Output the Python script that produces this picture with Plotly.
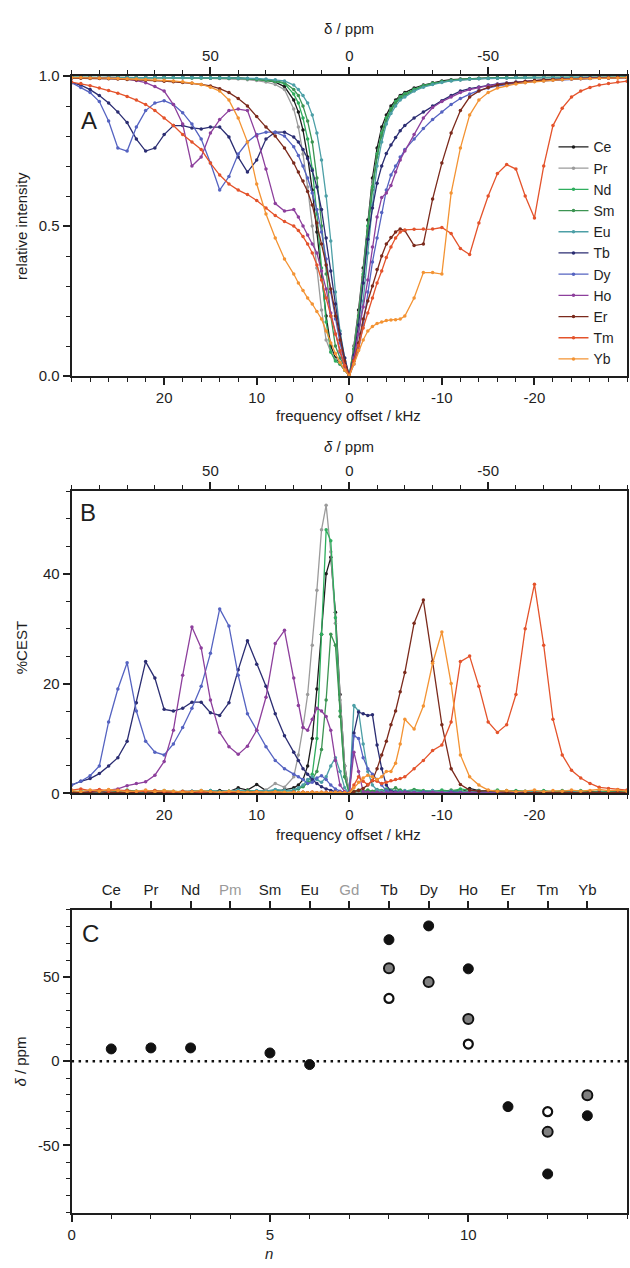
import plotly.graph_objects as go

W, H = 630, 1268
FONT = "Liberation Sans, Arial, sans-serif"
INK = "#1e1e1e"

# ---------------- frequency grid (kHz) shared by panels A and B ----------------
freq_khz = [30, 29, 28, 27, 26, 25, 24, 23, 22, 21, 20, 19, 18, 17, 16, 15, 14, 13, 12, 11, 10, 9, 8, 7,
            6, 5.5, 5, 4.5, 4, 3.5, 3, 2.5, 2, 1.5, 1, 0.5, 0, -0.5, -1, -1.5, -2, -2.5, -3, -3.5, -4, -4.5, -5, -5.5, -6,
            -7, -8, -9, -10, -11, -12, -13, -14, -15, -16, -17, -18, -19, -20, -21, -22, -23, -24, -25, -26, -27, -28, -29, -30]

lanthanides = ["Ce", "Pr", "Nd", "Sm", "Eu", "Tb", "Dy", "Ho", "Er", "Tm", "Yb"]

# ---------------- panel A: relative water intensity (Z-spectra) ----------------
z_Ce = [0.996, 0.995, 0.996, 0.995, 0.996, 0.995, 0.996, 0.995, 0.995, 0.996, 0.995, 0.995, 0.996, 0.995, 0.995, 0.994, 0.995, 0.994, 0.994, 0.992, 0.99, 0.986, 0.98, 0.965,
        0.92, 0.88, 0.82, 0.73, 0.62, 0.48, 0.33, 0.2, 0.1, 0.06, 0.04, 0.02, 0.0, 0.1, 0.22, 0.36, 0.52, 0.66, 0.76, 0.83, 0.87, 0.9, 0.92, 0.935, 0.945,
        0.96, 0.97, 0.978, 0.984, 0.988, 0.99, 0.992, 0.993, 0.994, 0.995, 0.995, 0.996, 0.995, 0.996, 0.995, 0.996, 0.996, 0.995, 0.996, 0.996, 0.995, 0.996, 0.996, 0.996]
z_Pr = [0.995, 0.996, 0.995, 0.995, 0.996, 0.995, 0.995, 0.996, 0.995, 0.995, 0.994, 0.995, 0.994, 0.994, 0.993, 0.993, 0.992, 0.991, 0.99, 0.988, 0.985, 0.98, 0.972, 0.955,
        0.89, 0.83, 0.74, 0.63, 0.5, 0.36, 0.22, 0.12, 0.08, 0.055, 0.04, 0.02, 0.0, 0.1, 0.21, 0.35, 0.5, 0.64, 0.74, 0.81, 0.86, 0.89, 0.91, 0.93, 0.94,
        0.955, 0.967, 0.975, 0.981, 0.985, 0.988, 0.99, 0.992, 0.993, 0.994, 0.995, 0.995, 0.996, 0.995, 0.996, 0.996, 0.995, 0.996, 0.996, 0.996, 0.995, 0.996, 0.996, 0.996]
z_Nd = [0.996, 0.996, 0.995, 0.996, 0.995, 0.996, 0.995, 0.996, 0.995, 0.995, 0.996, 0.995, 0.995, 0.995, 0.994, 0.994, 0.994, 0.993, 0.993, 0.991, 0.989, 0.986, 0.982, 0.975,
        0.94, 0.91, 0.86, 0.79, 0.69, 0.54, 0.36, 0.18, 0.08, 0.05, 0.04, 0.02, 0.0, 0.09, 0.2, 0.34, 0.5, 0.63, 0.74, 0.81, 0.86, 0.89, 0.915, 0.93, 0.94,
        0.956, 0.968, 0.976, 0.982, 0.986, 0.989, 0.991, 0.992, 0.993, 0.994, 0.995, 0.995, 0.995, 0.996, 0.995, 0.996, 0.996, 0.996, 0.995, 0.996, 0.996, 0.996, 0.996, 0.997]
z_Sm = [0.996, 0.995, 0.996, 0.995, 0.995, 0.996, 0.995, 0.995, 0.996, 0.995, 0.995, 0.995, 0.995, 0.994, 0.995, 0.994, 0.994, 0.993, 0.993, 0.992, 0.99, 0.988, 0.984, 0.978,
        0.955, 0.935, 0.9, 0.85, 0.78, 0.66, 0.5, 0.34, 0.2, 0.1, 0.06, 0.03, 0.0, 0.09, 0.2, 0.33, 0.48, 0.62, 0.73, 0.8, 0.85, 0.885, 0.91, 0.925, 0.935,
        0.952, 0.965, 0.974, 0.98, 0.985, 0.988, 0.99, 0.992, 0.993, 0.994, 0.994, 0.995, 0.995, 0.995, 0.996, 0.996, 0.995, 0.996, 0.996, 0.996, 0.996, 0.996, 0.997, 0.996]
z_Eu = [0.996, 0.996, 0.995, 0.996, 0.996, 0.995, 0.996, 0.995, 0.995, 0.996, 0.995, 0.995, 0.995, 0.995, 0.995, 0.994, 0.994, 0.994, 0.993, 0.993, 0.992, 0.99, 0.988, 0.984,
        0.97, 0.955, 0.935, 0.91, 0.87, 0.81, 0.72, 0.6, 0.45, 0.28, 0.15, 0.06, 0.0, 0.06, 0.14, 0.25, 0.41, 0.57, 0.7, 0.78, 0.84, 0.875, 0.9, 0.92, 0.93,
        0.95, 0.963, 0.972, 0.979, 0.984, 0.987, 0.99, 0.991, 0.992, 0.993, 0.994, 0.995, 0.995, 0.995, 0.995, 0.996, 0.996, 0.996, 0.996, 0.996, 0.995, 0.996, 0.996, 0.996]
z_Tb = [0.978, 0.97, 0.955, 0.935, 0.91, 0.88, 0.845, 0.79, 0.75, 0.76, 0.805, 0.835, 0.835, 0.827, 0.824, 0.83, 0.83, 0.797, 0.73, 0.68, 0.72, 0.79, 0.813, 0.813,
        0.797, 0.78, 0.755, 0.725, 0.685, 0.63, 0.555, 0.46, 0.35, 0.24, 0.14, 0.06, 0.0, 0.07, 0.17, 0.31, 0.456, 0.56, 0.643, 0.7, 0.742, 0.77, 0.795, 0.818, 0.835,
        0.86, 0.88, 0.9, 0.918, 0.935, 0.95, 0.958, 0.964, 0.97, 0.974, 0.977, 0.98, 0.982, 0.985, 0.987, 0.989, 0.99, 0.992, 0.993, 0.994, 0.994, 0.995, 0.995, 0.996]
z_Dy = [0.978, 0.962, 0.945, 0.915, 0.85, 0.76, 0.75, 0.83, 0.885, 0.91, 0.918, 0.905, 0.878, 0.84, 0.79, 0.71, 0.62, 0.665, 0.74, 0.78, 0.805, 0.813, 0.813, 0.8,
        0.764, 0.735, 0.7, 0.66, 0.61, 0.555, 0.48, 0.39, 0.28, 0.19, 0.11, 0.045, 0.0, 0.04, 0.09, 0.17, 0.28, 0.38, 0.46, 0.545, 0.62, 0.67, 0.7, 0.73, 0.755,
        0.79, 0.825, 0.855, 0.88, 0.905, 0.925, 0.94, 0.952, 0.96, 0.967, 0.972, 0.976, 0.979, 0.982, 0.984, 0.986, 0.988, 0.99, 0.991, 0.992, 0.993, 0.994, 0.995, 0.995]
z_Ho = [0.995, 0.995, 0.994, 0.994, 0.993, 0.992, 0.99, 0.985, 0.978, 0.965, 0.95, 0.905, 0.84, 0.7, 0.73, 0.81, 0.855, 0.885, 0.89, 0.885, 0.8, 0.69, 0.575, 0.55,
        0.555, 0.53, 0.5, 0.47, 0.44, 0.41, 0.35, 0.29, 0.21, 0.14, 0.08, 0.03, 0.0, 0.06, 0.14, 0.23, 0.32, 0.43, 0.53, 0.595, 0.61, 0.635, 0.68, 0.72, 0.75,
        0.805, 0.86, 0.895, 0.915, 0.93, 0.945, 0.955, 0.962, 0.968, 0.972, 0.976, 0.979, 0.982, 0.984, 0.986, 0.988, 0.99, 0.991, 0.992, 0.993, 0.994, 0.994, 0.995, 0.995]
z_Er = [0.993, 0.993, 0.992, 0.992, 0.991, 0.99, 0.989, 0.988, 0.986, 0.985, 0.983, 0.981, 0.979, 0.976, 0.972, 0.967, 0.958, 0.945, 0.925, 0.9, 0.865, 0.83, 0.8, 0.76,
        0.71, 0.68, 0.65, 0.615, 0.57, 0.51, 0.44, 0.37, 0.29, 0.2, 0.12, 0.05, 0.0, 0.05, 0.11, 0.19, 0.25, 0.3, 0.355, 0.4, 0.44, 0.462, 0.48, 0.49, 0.485,
        0.435, 0.44, 0.59, 0.71, 0.81, 0.885, 0.93, 0.95, 0.962, 0.97, 0.975, 0.979, 0.982, 0.985, 0.987, 0.989, 0.99, 0.991, 0.992, 0.993, 0.994, 0.994, 0.995, 0.995]
z_Tm = [0.98, 0.975, 0.968, 0.96, 0.952, 0.943, 0.932, 0.92, 0.905, 0.885, 0.86, 0.835, 0.805, 0.78, 0.755, 0.71, 0.67, 0.64, 0.62, 0.605, 0.585, 0.56, 0.535, 0.515,
        0.5, 0.485, 0.465, 0.44, 0.41, 0.37, 0.32, 0.26, 0.2, 0.14, 0.085, 0.035, 0.0, 0.05, 0.1, 0.16, 0.21, 0.26, 0.31, 0.35, 0.395, 0.43, 0.46, 0.48, 0.487,
        0.489, 0.49, 0.49, 0.495, 0.475, 0.425, 0.405, 0.51, 0.6, 0.675, 0.705, 0.69, 0.6, 0.527, 0.7, 0.835, 0.893, 0.93, 0.95, 0.962, 0.97, 0.975, 0.98, 0.983]
z_Yb = [0.995, 0.995, 0.994, 0.994, 0.993, 0.992, 0.991, 0.99, 0.989, 0.988, 0.986, 0.984, 0.981, 0.977, 0.972, 0.963, 0.95, 0.92, 0.86, 0.78, 0.64, 0.54, 0.46, 0.39,
        0.34, 0.31, 0.285, 0.26, 0.24, 0.215, 0.19, 0.15, 0.11, 0.075, 0.045, 0.02, 0.0, 0.04, 0.085, 0.12, 0.15, 0.165, 0.175, 0.18, 0.185, 0.187, 0.188, 0.19, 0.2,
        0.26, 0.345, 0.345, 0.34, 0.61, 0.76, 0.87, 0.92, 0.945, 0.96, 0.968, 0.974, 0.978, 0.981, 0.984, 0.986, 0.988, 0.99, 0.991, 0.992, 0.993, 0.994, 0.994, 0.995]

# ---------------- panel B: %CEST ----------------
cest_Ce = [0.2, 0.3, 0.1, 0.2, 0.4, 0.2, 0.1, 0.3, 0.2, 0.1, 0.3, 0.2, 0.2, 0.4, 0.3, 0.2, 0.5, 0.3, 1.0, 0.6, 1.6, 0.5, 0.3, 0.7,
           1.0, 1.5, 2.5, 5, 10, 19, 29, 40, 43, 33, 18, 5, 0, 0.2, 0.3, 0.2, 0.1, 0.3, 0.2, 0.1, 0.3, 0.2, 0.4, 0.2, 0.3,
           0.5, 0.3, 0.2, 0.4, 0.3, 0.2, 0.9, 0.5, 0.3, 0.2, 0.1, 0.3, 0.2, 0.1, 0.2, 0.3, 0.1, 0.2, 0.1, 0.2, 0.3, 0.1, 0.2, 0.1]
cest_Pr = [0.3, 0.2, 0.1, 0.3, 0.2, 0.1, 0.2, 0.3, 0.1, 0.2, 0.3, 0.2, 0.1, 0.2, 0.3, 0.2, 0.1, 0.3, 0.2, 0.4, 0.3, 0.6, 1.8, 1.1,
           3, 7, 12, 18, 27, 37, 48, 52.5, 44, 31, 17, 5, 0, 0.1, 0.2, 0.3, 0.1, 0.2, 0.1, 0.3, 0.2, 0.1, 0.2, 0.3, 0.1,
           0.2, 0.1, 0.3, 0.2, 0.1, 0.2, 0.1, 0.3, 0.2, 0.1, 0.2, 0.1, 0.2, 0.3, 0.1, 0.2, 0.1, 0.2, 0.1, 0.3, 0.2, 0.1, 0.2, 0.1]
cest_Nd = [0.2, 0.4, 0.3, 0.5, 0.2, 0.3, 0.6, 0.4, 0.2, 0.3, 0.5, 0.2, 0.4, 0.3, 0.2, 0.5, 0.3, 0.4, 0.2, 0.3, 0.4, 0.3, 0.5, 0.4,
           0.5, 0.8, 1.2, 2, 3.5, 10, 29, 48, 46, 32, 15, 3, 0, 0.3, 0.5, 0.4, 0.6, 0.3, 0.5, 0.4, 0.8, 0.5, 0.3, 0.6, 0.4,
           0.7, 0.5, 0.3, 0.6, 0.4, 0.8, 0.5, 0.3, 0.4, 0.6, 0.3, 0.5, 0.4, 0.3, 0.5, 0.2, 0.4, 0.3, 0.5, 0.2, 0.4, 0.3, 0.2, 0.4]
cest_Sm = [0.3, 0.2, 0.4, 0.3, 0.5, 0.2, 0.3, 0.4, 0.2, 0.5, 0.3, 0.4, 0.2, 0.3, 0.5, 0.3, 0.2, 0.4, 0.3, 0.5, 0.4, 0.3, 0.6, 0.5,
           0.6, 0.9, 1.3, 1.8, 2.5, 4, 8, 17, 29, 27, 14, 3, 0, 0.4, 0.6, 0.3, 0.5, 0.4, 0.7, 0.5, 0.4, 0.6, 1.0, 0.5, 0.4,
           0.6, 0.4, 0.5, 0.3, 0.6, 0.4, 0.3, 0.5, 0.4, 0.3, 0.5, 0.4, 0.3, 0.2, 0.4, 0.3, 0.5, 0.2, 0.3, 0.4, 0.2, 0.3, 0.4, 0.2]
cest_Eu = [0.1, 0.2, 0.1, 0.2, 0.3, 0.1, 0.2, 0.1, 0.3, 0.2, 0.1, 0.2, 0.3, 0.4, 0.2, 0.5, 0.3, 0.4, 0.6, 0.3, 0.5, 0.4, 0.7, 0.5,
           0.6, 1, 1.5, 2.5, 3, 2.5, 2, 3, 5, 6.5, 4, 1, 0, 16, 15, 9, 4, 1.5, 0.6, 0.4, 0.3, 0.5, 0.4, 0.3, 0.5,
           0.4, 0.3, 0.5, 0.2, 0.4, 0.3, 0.2, 0.4, 0.3, 0.2, 0.3, 0.2, 0.4, 0.2, 0.3, 0.2, 0.1, 0.3, 0.2, 0.1, 0.2, 0.1, 0.2, 0.1]
cest_Tb = [1.5, 2.2, 2.7, 3.6, 5, 6.5, 9.5, 16.5, 24, 21, 15.3, 15, 15.5, 16.6, 16.6, 14.7, 14.2, 16.5, 22.5, 27.8, 23.5, 19.5, 14.5, 10.5,
           7.5, 6, 4.5, 3.5, 2.5, 1.8, 1.2, 0.8, 0.5, 0.3, 0.2, 0.1, 0, 11, 14.8, 14.5, 14.2, 14.3, 8.8, 4.5, 1.5, 0.4, 0.2, 0.1, 0.2,
           0.1, 0.2, 0.1, 0.1, 0.2, 0.1, 0.1, 0.2, 0.1, 0.1, 0.1, 0.2, 0.1, 0.1, 0.1, 0.2, 0.1, 0.1, 0.1, 0.1, 0.2, 0.1, 0.1, 0.1]
cest_Dy = [1.5, 2.2, 3.2, 5, 13, 19, 23.8, 15, 9.5, 7.5, 7, 9, 12, 15.5, 19.5, 25.5, 33.6, 30.5, 21.5, 14.5, 11.5, 8.5, 6, 4.5,
           3.5, 3, 2.5, 1.8, 2, 2.8, 3.2, 2.5, 1.5, 0.8, 0.4, 0.2, 0, 10.5, 10, 6.5, 4.5, 3.5, 2.5, 1.5, 0.5, 0.2, 0.1, 0.2, 0.1,
           0.1, 0.2, 0.1, 0.1, 0.2, 0.1, 0.1, 0.1, 0.2, 0.1, 0.1, 0.1, 0.2, 0.1, 0.1, 0.1, 0.1, 0.2, 0.1, 0.1, 0.1, 0.1, 0.2, 0.1]
cest_Ho = [0.1, 0.2, 0.2, 0.4, 0.6, 0.8, 1.4, 1.8, 2.1, 3.3, 5.8, 11.5, 21.5, 30.3, 26.5, 17, 11.1, 8.5, 7.1, 8.6, 11.5, 17.5, 27.3, 29.7,
           21, 16, 12, 11.5, 13.5, 15.5, 15, 14, 11.5, 6, 1.5, 0.3, 0, 7.5, 4, 0.3, 0.2, 0.1, 0.2, 0.1, 0.1, 0.2, 0.1, 0.1, 0.2,
           0.1, 0.1, 0.2, 0.1, 0.1, 0.1, 0.2, 0.1, 0.1, 0.1, 0.1, 0.2, 0.1, 0.1, 0.1, 0.1, 0.2, 0.1, 0.1, 0.1, 0.1, 0.1, 0.2, 0.1]
cest_Er = [0.2, 0.1, 0.2, 0.3, 0.1, 0.2, 0.1, 0.2, 0.3, 0.1, 0.2, 0.1, 0.2, 0.1, 0.3, 0.2, 0.1, 0.2, 0.1, 0.2, 0.3, 0.1, 0.2, 0.1,
           0.2, 0.1, 0.2, 0.1, 0.2, 0.1, 0.2, 0.1, 0.1, 0.2, 0.1, 0.1, 0, 0.3, 0.5, 0.9, 1.5, 2.3, 4.5, 7, 9.5, 12.5, 15, 18.5, 22,
           31, 35.2, 24, 12.5, 4.5, 1.6, 0.6, 0.4, 0.5, 0.3, 0.2, 0.3, 0.2, 0.1, 0.2, 0.1, 0.2, 0.1, 0.1, 0.2, 0.1, 0.1, 0.2, 0.1]
cest_Tm = [0.6, 0.8, 0.5, 0.7, 0.4, 0.6, 0.5, 0.3, 0.4, 0.5, 0.3, 0.2, 0.4, 0.3, 0.2, 0.3, 0.1, 0.2, 0.3, 0.1, 0.2, 0.1, 0.2, 0.1,
           0.2, 0.1, 0.2, 0.1, 0.2, 0.1, 0.1, 0.2, 0.1, 0.1, 0.2, 0.1, 0, 1.5, 3, 2.2, 1.6, 2.4, 2.2, 1.8, 2, 2.3, 2.5, 2.7, 3,
           4.5, 6, 7.8, 8.8, 13, 24, 25, 19.5, 13, 11.1, 12.5, 18, 30, 38.1, 27, 13.5, 7, 4.2, 2.8, 1.8, 1.1, 0.9, 0.7, 0.6]
cest_Yb = [0.5, 0.3, 0.6, 0.4, 0.7, 0.5, 0.3, 0.4, 0.6, 0.3, 0.5, 0.4, 0.2, 0.3, 0.5, 0.3, 0.2, 0.4, 0.3, 0.2, 0.3, 0.2, 0.3, 0.2,
           0.2, 0.1, 0.2, 0.1, 0.2, 0.1, 0.2, 0.1, 0.1, 0.2, 0.1, 0.1, 0, 1, 2, 2.8, 3.3, 3, 2.5, 3, 4, 4, 5.5, 9, 13.5,
           11.7, 15.9, 23.7, 29.4, 20, 7, 3, 1.5, 0.6, 0.4, 0.5, 0.3, 0.4, 0.6, 0.3, 0.5, 0.4, 0.6, 0.4, 0.5, 0.7, 0.5, 0.6, 0.4]

# ---------------- panel C: shifts of the CEST peaks vs. number of f electrons ----------------
element_n = [1, 2, 3, 4, 5, 6, 7, 8, 9, 10, 11, 12, 13]
element_names = ["Ce", "Pr", "Nd", "Pm", "Sm", "Eu", "Gd", "Tb", "Dy", "Ho", "Er", "Tm", "Yb"]
no_data_elements = ["Pm", "Gd"]

main_n = [1, 2, 3, 5, 6, 8, 9, 10, 11, 12, 13]
main_shift = [7.3, 7.9, 7.9, 4.9, -2.0, 72.2, 80.4, 54.9, -27.0, -67.0, -32.4]
second_n = [8, 9, 10, 12, 13]
second_shift = [55.3, 47.0, 25.1, -42.0, -20.2]
third_n = [8, 10, 12]
third_shift = [37.3, 10.2, -30.0]

# tick positions / labels
ppm_ticks = [50, 0, -50]
ppm_text = ["50", "0", "-50"]
khz_ticks = [20, 10, 0, -10, -20]
khz_text = ["20", "10", "0", "-10", "-20"]

colors = {
    "Ce": "#1c1c1c", "Pr": "#9b9b9b", "Nd": "#2fae5e", "Sm": "#3c9452", "Eu": "#4c9fa6",
    "Tb": "#2b2d72", "Dy": "#5563c1", "Ho": "#8d3f9c", "Er": "#7b2a1c", "Tm": "#e4532b", "Yb": "#f39333",
}
z_spectra = {"Ce": z_Ce, "Pr": z_Pr, "Nd": z_Nd, "Sm": z_Sm, "Eu": z_Eu, "Tb": z_Tb,
             "Dy": z_Dy, "Ho": z_Ho, "Er": z_Er, "Tm": z_Tm, "Yb": z_Yb}
cest_spectra = {"Ce": cest_Ce, "Pr": cest_Pr, "Nd": cest_Nd, "Sm": cest_Sm, "Eu": cest_Eu, "Tb": cest_Tb,
                "Dy": cest_Dy, "Ho": cest_Ho, "Er": cest_Er, "Tm": cest_Tm, "Yb": cest_Yb}


def px(x):
    return x / W


def py(y):
    return 1 - y / H


fig = go.Figure()

for ln in lanthanides:
    fig.add_trace(go.Scatter(
        x=freq_khz, y=z_spectra[ln], name=ln, mode="lines+markers",
        line=dict(color=colors[ln], width=1.3),
        marker=dict(color=colors[ln], size=3.5),
        xaxis="x", yaxis="y", legendgroup=ln,
    ))

for ln in lanthanides:
    fig.add_trace(go.Scatter(
        x=freq_khz, y=cest_spectra[ln], name=ln, mode="lines+markers",
        line=dict(color=colors[ln], width=1.3),
        marker=dict(color=colors[ln], size=3.5),
        xaxis="x3", yaxis="y2", legendgroup=ln, showlegend=False,
    ))

fig.add_trace(go.Scatter(x=main_n, y=main_shift, mode="markers", showlegend=False,
                         marker=dict(color="#111111", size=10, line=dict(color="#111111", width=1)),
                         xaxis="x5", yaxis="y3"))
fig.add_trace(go.Scatter(x=second_n, y=second_shift, mode="markers", showlegend=False,
                         marker=dict(color="#808080", size=10, line=dict(color="#111111", width=2)),
                         xaxis="x5", yaxis="y3"))
fig.add_trace(go.Scatter(x=third_n, y=third_shift, mode="markers", showlegend=False,
                         marker=dict(color="#ffffff", size=9, line=dict(color="#111111", width=2.2)),
                         xaxis="x5", yaxis="y3"))

# empty traces that register the secondary (top) axes so they get drawn
for xa, ya, xs in (("x2", "y", ppm_ticks), ("x4", "y2", ppm_ticks), ("x6", "y3", element_n)):
    fig.add_trace(go.Scatter(x=xs, y=[None] * len(xs), mode="markers", showlegend=False,
                             hoverinfo="skip", xaxis=xa, yaxis=ya))

XDOM = [px(68), px(627)]
tickfont = dict(family=FONT, size=15, color=INK)
line_style = dict(showline=True, linewidth=2, linecolor=INK, showgrid=False, zeroline=False,
                  ticks="outside", ticklen=7, tickwidth=1.6, tickcolor=INK, tickfont=tickfont)


def minor(step, t0=0):
    return dict(tickmode="linear", tick0=t0, dtick=step, ticks="outside", ticklen=4,
                tickwidth=1.3, tickcolor=INK, showgrid=False)


elem_text = []
for name in element_names:
    if name in no_data_elements:
        elem_text.append('<span style="color:#9a9a9a">' + name + "</span>")
    else:
        elem_text.append(name)

fig.update_layout(
    width=W, height=H, autosize=False,
    margin=dict(l=0, r=0, t=0, b=0),
    paper_bgcolor="white", plot_bgcolor="white",
    font=dict(family=FONT, size=15, color=INK),
    # panel A
    xaxis=dict(domain=XDOM, anchor="y", range=[30, -30], tickmode="array", tickvals=khz_ticks,
               ticktext=khz_text, minor=minor(2), **line_style),
    xaxis2=dict(overlaying="x", anchor="y", side="top", range=[100, -100], tickmode="array",
                tickvals=ppm_ticks, ticktext=ppm_text, minor=minor(10), **line_style),
    yaxis=dict(domain=[py(372), py(68)], anchor="x", range=[0, 1.0], tickmode="array",
               tickvals=[0, 0.5, 1.0], ticktext=["0.0", "0.5", "1.0"], minor=minor(0.1),
               mirror=True, **line_style),
    # panel B
    xaxis3=dict(domain=XDOM, anchor="y2", range=[30, -30], tickmode="array", tickvals=khz_ticks,
                ticktext=khz_text, minor=minor(2), **line_style),
    xaxis4=dict(overlaying="x3", anchor="y2", side="top", range=[100, -100], tickmode="array",
                tickvals=ppm_ticks, ticktext=ppm_text, minor=minor(10), **line_style),
    yaxis2=dict(domain=[py(795), py(489)], anchor="x3", range=[0, 55], tickmode="array",
                tickvals=[0, 20, 40], ticktext=["0", "20", "40"], minor=minor(5),
                mirror=True, **line_style),
    # panel C
    xaxis5=dict(domain=XDOM, anchor="y3", range=[0, 14], tickmode="array", tickvals=[0, 5, 10],
                ticktext=["0", "5", "10"], minor=minor(1), **line_style),
    xaxis6=dict(overlaying="x5", anchor="y3", side="top", range=[0, 14], tickmode="array",
                tickvals=element_n, ticktext=elem_text, **line_style),
    yaxis3=dict(domain=[py(1220), py(913)], anchor="x5", range=[-90, 90], tickmode="array",
                tickvals=[-50, 0, 50], ticktext=["-50", "0", "50"], minor=minor(10),
                mirror=True, **line_style),
    legend=dict(x=px(553), y=py(124), xanchor="left", yanchor="top", bgcolor="rgba(0,0,0,0)",
                font=dict(family=FONT, size=14, color=INK), tracegroupgap=0),
)

# zero reference line in panel C
fig.add_shape(type="line", xref="x5 domain", x0=0, x1=1, yref="y3", y0=0, y1=0,
              line=dict(color="#111111", width=2.5, dash="2.5px,4.5px"))


def note(text, x, y, size=15, angle=0):
    fig.add_annotation(text=text, x=px(x), y=py(y), xref="paper", yref="paper",
                       showarrow=False, textangle=angle, xanchor="center", yanchor="middle",
                       font=dict(family=FONT, size=size, color=INK))


note("δ / ppm", 347, 20)
note("frequency offset / kHz", 347, 412)
note("relative intensity", 17, 220, angle=-90)
note("A", 86, 113, size=24)

note("<i>δ</i> / ppm", 347, 443)
note("frequency offset / kHz", 347, 837)
note("%CEST", 17, 647, angle=-90)
note("B", 85, 510, size=24)

note("<i>δ</i> / ppm", 17, 1067, angle=-90)
note("<i>n</i>", 267, 1261)
note("C", 87, 937, size=24)

fig.write_html("out.html")
